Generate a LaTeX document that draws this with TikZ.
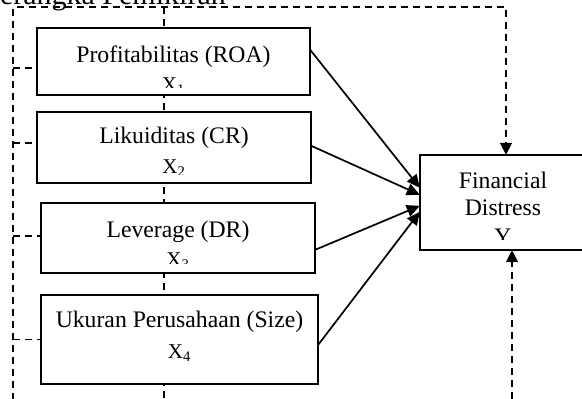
\documentclass[tikz,border=0pt]{standalone}
\usepackage{fontspec}
\setmainfont{Liberation Serif}
\usetikzlibrary{arrows.meta}
\begin{document}
\begin{tikzpicture}[x=1pt,y=-1pt,
  box/.style={draw, line width=2pt, fill=white, inner sep=0pt},
  dsh/.style={line width=1.8pt, dash pattern=on 7pt off 5pt},
  darr/.style={-{Triangle[length=12pt,width=12pt]}},
  arr/.style={line width=1.7pt, -{Triangle[length=13pt,width=12pt]}},
  lbl/.style={anchor=base, font=\fontsize{23.7}{27}\selectfont, inner sep=0pt},
  xlbl/.style={anchor=base, font=\fontsize{21}{24}\selectfont, inner sep=0pt},
]
\useasboundingbox (0,0) rectangle (582,399);

% title (clipped by the page edge, as in the reference)
\node[anchor=base east, font=\fontsize{30}{30}\selectfont, inner sep=0pt] (title) at (226,4) {Kerangka Pemikiran};

% boxes' geometry (drawn later)
\path (173.5,61.5) node[minimum width=273pt, minimum height=67pt] (b1) {};
\path (174,147.5) node[minimum width=274pt, minimum height=71pt] (b2) {};
\path (178,238) node[minimum width=274pt, minimum height=70pt] (b3) {};
\path (179.5,339.5) node[minimum width=277pt, minimum height=89pt] (b4) {};
\path (510,202.5) node[minimum width=180pt, minimum height=95pt] (by) {};

% dashed connectors
\coordinate (lt) at (13,9);
\coordinate (lb) at (13,399);
\coordinate (tt) at (17,7);
\coordinate (tr) at (506,7);
\coordinate (mt) at (164,7);
\coordinate (mb) at (164,399);
\coordinate (br) at (512,399);
\coordinate (s1) at ([yshift=-40pt]b1.north west);
\coordinate (s2) at ([yshift=-31pt]b2.north west);
\coordinate (s3) at ([yshift=-33pt]b3.north west);
\coordinate (s4) at (b4.west);

\draw[dsh] (lt) -- (lb);
\draw[dsh] (mt) -- (mb);
\draw[dsh, darr] (tt) -- (tr) -- (tr |- by.north);
\draw[dsh, darr] (br) -- (br |- by.south);
\draw[dsh] (s1 -| lt) -- (s1);
\draw[dsh] (s2 -| lt) -- (s2);
\draw[dsh] (s3 -| lt) -- (s3);
\draw[dsh] (s4 -| lt) -- (s4);

% boxes
\node[box, minimum width=273pt, minimum height=67pt] (f1) at (b1) {};
\node[box, minimum width=274pt, minimum height=71pt] (f2) at (b2) {};
\node[box, minimum width=274pt, minimum height=70pt] (f3) at (b3) {};
\node[box, minimum width=277pt, minimum height=89pt] (f4) at (b4) {};
\node[box, minimum width=180pt, minimum height=95pt] (fy) at (by) {};

% texts
\begin{scope}
  \clip (37,28) rectangle (310,87);
  \node[lbl] (t1) at (173.5,62) {Profitabilitas (ROA)};
  \node[xlbl] (x1) at (173.5,91) {X\textsubscript{1}};
\end{scope}
\begin{scope}
  \clip (37,112) rectangle (311,174);
  \node[lbl] (t2) at (174,143) {Likuiditas (CR)};
  \node[xlbl] (x2) at (174,173) {X\textsubscript{2}};
\end{scope}
\begin{scope}
  \clip (41,203) rectangle (315,263);
  \node[lbl] (t3) at (178,237) {Leverage (DR)};
  \node[xlbl] (x3) at (178,266) {X\textsubscript{3}};
\end{scope}
\node[lbl] (t4) at (179.5,327) {Ukuran Perusahaan (Size)};
\node[xlbl] (x4) at (179.5,358) {X\textsubscript{4}};
\begin{scope}
  \clip (420,155) rectangle (582,239);
  \node[lbl] (ty1) at (503,188) {Financial};
  \node[lbl] (ty2) at (503,215) {Distress};
  \node[lbl] (ty3) at (503,244) {Y};
\end{scope}

% solid arrows
\draw[arr] ([yshift=-22pt]b1.north east) -- ([yshift=-33pt]by.north west);
\draw[arr] ([yshift=-34pt]b2.north east) -- ([yshift=-40pt]by.north west);
\draw[arr] ([yshift=-47pt]b3.north east) -- ([yshift=-51pt]by.north west);
\draw[arr] ([yshift=-50pt]b4.north east) -- ([yshift=-57pt]by.north west);
\end{tikzpicture}
\end{document}
